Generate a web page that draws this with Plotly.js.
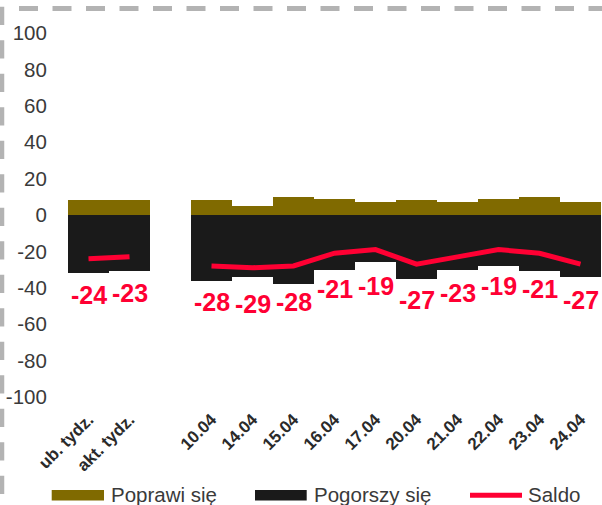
<!DOCTYPE html>
<html>
<head>
<meta charset="utf-8">
<script src="https://cdn.plot.ly/plotly-3.0.1.min.js"></script>
<style>html,body{margin:0;padding:0;background:#fff;}#chart{width:602px;height:505px;}</style>
</head>
<body>
<div id="chart"></div>
<script>
// ---- data ----
const categories = ['ub. tydz.', 'akt. tydz.', ' ', '10.04', '14.04', '15.04', '16.04', '17.04', '20.04', '21.04', '22.04', '23.04', '24.04'];
const poprawi = [8, 8, null, 8, 5, 10, 9, 7, 8, 7, 9, 10, 7];
const pogorszy = [-32, -31, null, -36, -34, -38, -30, -26, -35, -30, -28, -31, -34];
const saldo = [-24, -23, null, -28, -29, -28, -21, -19, -27, -23, -19, -21, -27];
const seriesNames = ['Poprawi się', 'Pogorszy się', 'Saldo'];
const yTicks = [100, 80, 60, 40, 20, 0, -20, -40, -60, -80, -100];

// ---- styling ----
const C_UP = '#806A00', C_DOWN = '#1A1A1A', C_SALDO = '#FF0033', C_TXT = '#3a3a3a';
const FONT = 'Liberation Sans, Arial, sans-serif';
const W = 602, H = 505, L = 68, R = 1, T = 33, B = 108;
const PW = W - L - R, PH = H - T - B;
const px = p => (p - L) / PW;
const py = p => (H - B - p) / PH;

const traces = [
  {type: 'bar', x: categories, y: poprawi, name: seriesNames[0], marker: {color: C_UP}},
  {type: 'bar', x: categories, y: pogorszy, name: seriesNames[1], marker: {color: C_DOWN}},
  {type: 'scatter', mode: 'lines', x: categories, y: saldo, name: seriesNames[2],
   line: {color: C_SALDO, width: 5}, connectgaps: false}
];

const annotations = [];
saldo.forEach((v, i) => {
  if (v === null) return;
  annotations.push({x: i, y: v, xref: 'x', yref: 'y', text: String(v), showarrow: false,
    yshift: -36, xanchor: 'center', yanchor: 'middle',
    font: {family: FONT, size: 25, color: C_SALDO, weight: 700}});
});

// custom legend
const legY = 494.5;
const legItems = [
  {x0: 51.7, x1: 104, tx: 108.5, type: 'rect', color: C_UP},
  {x0: 255, x1: 306.7, tx: 311.5, type: 'rect', color: C_DOWN},
  {x0: 470, x1: 522, tx: 526, type: 'line', color: C_SALDO}
];
const shapes = [];
legItems.forEach((it, i) => {
  if (it.type === 'rect') {
    shapes.push({type: 'rect', xref: 'paper', yref: 'paper', x0: px(it.x0), x1: px(it.x1),
      y0: py(495.3 - 5.3), y1: py(495.3 + 5.3), fillcolor: it.color, line: {width: 0}});
  } else {
    shapes.push({type: 'line', xref: 'paper', yref: 'paper', x0: px(it.x0), x1: px(it.x1),
      y0: py(495.3), y1: py(495.3), line: {color: it.color, width: 5}});
  }
  annotations.push({xref: 'paper', yref: 'paper', x: px(it.tx), y: py(legY), text: seriesNames[i],
    showarrow: false, xanchor: 'left', yanchor: 'middle',
    font: {family: FONT, size: 20.5, color: C_TXT}});
});

// dashed frame (top and left)
shapes.push({type: 'line', xref: 'paper', yref: 'paper', x0: px(19), x1: px(610), y0: py(8.5), y1: py(8.5),
  line: {color: '#B3B3B3', width: 5, dash: '19px,14.5px'}});
shapes.push({type: 'line', xref: 'paper', yref: 'paper', x0: px(2), x1: px(2), y0: py(6.7), y1: py(515),
  line: {color: '#B3B3B3', width: 4.5, dash: '18.3px,15.2px'}});

const layout = {
  width: W, height: H,
  margin: {l: L, r: R, t: T, b: B, pad: 0},
  paper_bgcolor: '#fff', plot_bgcolor: '#fff',
  barmode: 'relative', bargap: 0,
  showlegend: false,
  xaxis: {type: 'category', categoryorder: 'array', categoryarray: categories,
    range: [-0.5, categories.length - 0.5],
    tickangle: -45, tickfont: {family: FONT, size: 17, color: '#2a2a2a', weight: 700},
    showgrid: false, zeroline: false, showline: false,
    ticks: 'outside', ticklen: 5, tickcolor: 'rgba(0,0,0,0)'},
  yaxis: {range: [-100, 100], tickvals: yTicks, ticktext: yTicks.map(String),
    tickfont: {family: FONT, size: 20.5, color: C_TXT},
    showgrid: false, zeroline: false, showline: false,
    ticks: 'outside', ticklen: 16, tickcolor: 'rgba(0,0,0,0)'},
  annotations: annotations,
  shapes: shapes,
  font: {family: FONT}
};

Plotly.newPlot('chart', traces, layout, {staticPlot: true, displayModeBar: false});
</script>
</body>
</html>
